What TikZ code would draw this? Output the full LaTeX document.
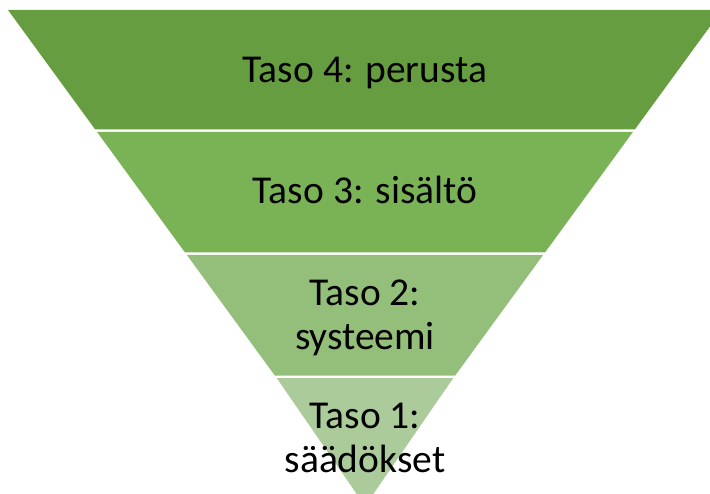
\documentclass[tikz,border=0pt]{standalone}
\usepackage{fontspec}
\setmainfont{Carlito}
\usetikzlibrary{positioning}

\definecolor{tasoNelja}{HTML}{669D41}
\definecolor{tasoKolme}{HTML}{7AB356}
\definecolor{tasoKaksi}{HTML}{93BF7B}
\definecolor{tasoYksi}{HTML}{ABCB9A}

\begin{document}
\begin{tikzpicture}[x=1bp,y=-1bp]
    \tikzset{tasoText/.style={font=\fontsize{39.5bp}{44bp}\selectfont, align=center, text=black, inner sep=0pt}}
    % Page size of the reference
    \useasboundingbox (0,0) rectangle (710,494);

    % Bands of the inverted pyramid
    \fill[tasoNelja] (8,10) -- (722,10) -- (634.8,129.5) -- (95.2,129.5) -- cycle;
    \fill[tasoKolme] (97.1,132) -- (632.9,132) -- (545,252.5) -- (185,252.5) -- cycle;
    \fill[tasoKaksi] (186.9,255) -- (543.1,255) -- (455.2,375.5) -- (274.8,375.5) -- cycle;
    \fill[tasoYksi] (276.7,378) -- (453.3,378) -- (365,506) -- cycle;

    % Texts (base = baseline of the last line)
    \node[tasoText, anchor=base] (perusta) at (365,83) {Taso 4: perusta};
    \node[tasoText, anchor=base] (sisalto) at (365,204) {Taso 3: sisältö};
    \node[tasoText, anchor=base] (systeemi) at (365,349.5) {Taso 2:\\systeemi};
    \node[tasoText, anchor=base] (saadokset) at (365,472.5) {Taso 1:\\säädökset};

\end{tikzpicture}
\end{document}
